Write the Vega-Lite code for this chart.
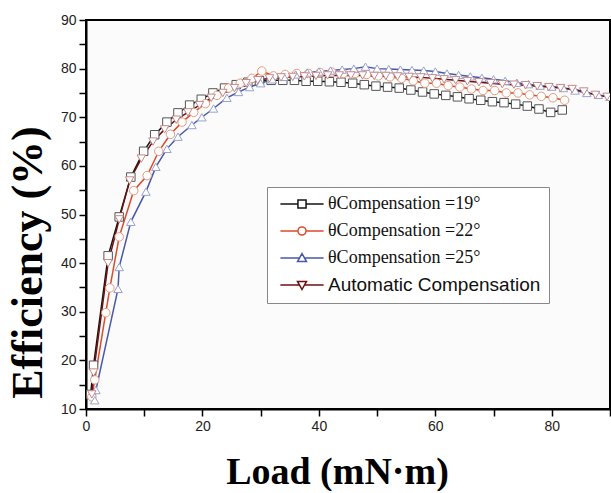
{
  "$schema": "https://vega.github.io/schema/vega-lite/v6.json",
  "width": 524,
  "height": 389,
  "padding": {"left": 6, "top": 13, "right": 0, "bottom": 0},
  "background": "white",
  "config": {"view": {"stroke": "black", "strokeWidth": 2, "fill": "#fbfbfc"}},
  "data": {"values": [
    {"s":"19","x":0.8,"y":13.0},{"s":"19","x":1.3,"y":19.0},{"s":"19","x":3.8,"y":41.5},{"s":"19","x":5.7,"y":49.5},{"s":"19","x":7.7,"y":57.7},{"s":"19","x":9.9,"y":63.0},{"s":"19","x":11.8,"y":66.4},{"s":"19","x":13.9,"y":69.0},{"s":"19","x":15.8,"y":70.9},{"s":"19","x":17.8,"y":72.5},{"s":"19","x":19.8,"y":73.7},{"s":"19","x":21.8,"y":75.0},{"s":"19","x":23.8,"y":76.0},{"s":"19","x":25.8,"y":76.7},{"s":"19","x":27.8,"y":77.2},{"s":"19","x":29.8,"y":77.5},{"s":"19","x":31.8,"y":77.6},{"s":"19","x":33.8,"y":77.6},{"s":"19","x":35.8,"y":77.6},{"s":"19","x":37.8,"y":77.4},{"s":"19","x":39.8,"y":77.4},{"s":"19","x":41.8,"y":77.3},{"s":"19","x":43.8,"y":77.2},{"s":"19","x":45.8,"y":77.0},{"s":"19","x":47.8,"y":76.7},{"s":"19","x":49.8,"y":76.4},{"s":"19","x":51.8,"y":76.2},{"s":"19","x":53.8,"y":76.0},{"s":"19","x":55.8,"y":75.6},{"s":"19","x":57.8,"y":75.2},{"s":"19","x":59.8,"y":74.8},{"s":"19","x":61.8,"y":74.5},{"s":"19","x":63.8,"y":74.2},{"s":"19","x":65.8,"y":73.8},{"s":"19","x":67.8,"y":73.5},{"s":"19","x":69.8,"y":73.2},{"s":"19","x":71.8,"y":73.0},{"s":"19","x":73.8,"y":72.7},{"s":"19","x":75.8,"y":72.3},{"s":"19","x":77.8,"y":71.7},{"s":"19","x":79.8,"y":71.0},{"s":"19","x":81.8,"y":71.5},
    {"s":"22","x":1.0,"y":12.5},{"s":"22","x":1.5,"y":16.0},{"s":"22","x":3.4,"y":29.8},{"s":"22","x":4.1,"y":34.9},{"s":"22","x":5.7,"y":45.4},{"s":"22","x":8.2,"y":54.9},{"s":"22","x":10.5,"y":58.0},{"s":"22","x":12.5,"y":63.0},{"s":"22","x":14.5,"y":66.5},{"s":"22","x":16.5,"y":69.0},{"s":"22","x":18.5,"y":71.0},{"s":"22","x":20.5,"y":72.8},{"s":"22","x":22.5,"y":74.5},{"s":"22","x":24.5,"y":76.0},{"s":"22","x":26.5,"y":77.0},{"s":"22","x":28.5,"y":78.0},{"s":"22","x":30.2,"y":79.5},{"s":"22","x":32.2,"y":78.5},{"s":"22","x":34.2,"y":78.8},{"s":"22","x":36.2,"y":79.0},{"s":"22","x":38.2,"y":79.0},{"s":"22","x":40.2,"y":79.2},{"s":"22","x":42.2,"y":79.3},{"s":"22","x":44.2,"y":79.0},{"s":"22","x":46.2,"y":79.0},{"s":"22","x":48.2,"y":78.8},{"s":"22","x":50.2,"y":78.5},{"s":"22","x":52.2,"y":78.3},{"s":"22","x":54.2,"y":78.0},{"s":"22","x":56.2,"y":77.5},{"s":"22","x":58.2,"y":77.0},{"s":"22","x":60.2,"y":77.0},{"s":"22","x":62.2,"y":76.5},{"s":"22","x":64.2,"y":76.2},{"s":"22","x":66.2,"y":75.8},{"s":"22","x":68.2,"y":75.5},{"s":"22","x":70.2,"y":75.5},{"s":"22","x":72.2,"y":75.0},{"s":"22","x":74.2,"y":75.0},{"s":"22","x":76.2,"y":74.6},{"s":"22","x":78.2,"y":74.3},{"s":"22","x":80.2,"y":74.0},{"s":"22","x":82.2,"y":73.5},
    {"s":"25","x":1.5,"y":11.8},{"s":"25","x":1.7,"y":13.9},{"s":"25","x":5.5,"y":34.7},{"s":"25","x":5.7,"y":39.2},{"s":"25","x":7.7,"y":48.5},{"s":"25","x":10.3,"y":54.7},{"s":"25","x":12.0,"y":59.8},{"s":"25","x":13.9,"y":63.5},{"s":"25","x":15.8,"y":66.0},{"s":"25","x":18.2,"y":68.4},{"s":"25","x":19.9,"y":70.0},{"s":"25","x":21.9,"y":71.8},{"s":"25","x":24.2,"y":74.0},{"s":"25","x":26.2,"y":75.2},{"s":"25","x":28.1,"y":76.2},{"s":"25","x":30.0,"y":77.0},{"s":"25","x":32.0,"y":77.8},{"s":"25","x":34.0,"y":78.3},{"s":"25","x":36.0,"y":78.8},{"s":"25","x":38.0,"y":79.2},{"s":"25","x":40.0,"y":79.4},{"s":"25","x":42.0,"y":79.6},{"s":"25","x":44.0,"y":79.8},{"s":"25","x":46.0,"y":80.0},{"s":"25","x":48.0,"y":80.4},{"s":"25","x":50.0,"y":80.0},{"s":"25","x":52.0,"y":79.9},{"s":"25","x":54.0,"y":79.8},{"s":"25","x":56.0,"y":79.7},{"s":"25","x":58.0,"y":79.6},{"s":"25","x":60.0,"y":79.4},{"s":"25","x":62.0,"y":79.0},{"s":"25","x":64.0,"y":78.7},{"s":"25","x":66.0,"y":78.4},{"s":"25","x":68.0,"y":78.1},{"s":"25","x":70.0,"y":77.8},{"s":"25","x":72.0,"y":77.5},{"s":"25","x":74.0,"y":77.1},{"s":"25","x":76.0,"y":76.8},{"s":"25","x":78.0,"y":76.5},{"s":"25","x":80.0,"y":76.3},{"s":"25","x":82.0,"y":76.0},{"s":"25","x":84.0,"y":75.5},{"s":"25","x":86.0,"y":75.0},{"s":"25","x":88.0,"y":74.6},{"s":"25","x":90.0,"y":74.2},
    {"s":"auto","x":1.0,"y":13.0},{"s":"auto","x":1.3,"y":17.5},{"s":"auto","x":3.8,"y":40.0},{"s":"auto","x":5.7,"y":49.0},{"s":"auto","x":7.5,"y":57.0},{"s":"auto","x":9.5,"y":61.5},{"s":"auto","x":11.5,"y":65.0},{"s":"auto","x":13.5,"y":67.5},{"s":"auto","x":15.5,"y":69.5},{"s":"auto","x":17.5,"y":71.0},{"s":"auto","x":19.5,"y":72.5},{"s":"auto","x":21.5,"y":74.0},{"s":"auto","x":23.5,"y":75.0},{"s":"auto","x":25.5,"y":76.0},{"s":"auto","x":27.5,"y":77.0},{"s":"auto","x":29.5,"y":77.6},{"s":"auto","x":31.5,"y":78.0},{"s":"auto","x":33.5,"y":78.2},{"s":"auto","x":35.5,"y":78.3},{"s":"auto","x":37.5,"y":78.4},{"s":"auto","x":39.5,"y":78.5},{"s":"auto","x":41.5,"y":78.6},{"s":"auto","x":43.5,"y":78.6},{"s":"auto","x":45.5,"y":78.6},{"s":"auto","x":47.5,"y":78.6},{"s":"auto","x":49.5,"y":78.5},{"s":"auto","x":51.5,"y":78.5},{"s":"auto","x":53.5,"y":78.4},{"s":"auto","x":55.5,"y":78.3},{"s":"auto","x":57.5,"y":78.2},{"s":"auto","x":59.5,"y":78.0},{"s":"auto","x":61.5,"y":77.8},{"s":"auto","x":63.5,"y":77.6},{"s":"auto","x":65.5,"y":77.4},{"s":"auto","x":67.5,"y":77.2},{"s":"auto","x":69.5,"y":77.0},{"s":"auto","x":71.5,"y":76.8},{"s":"auto","x":73.5,"y":76.7},{"s":"auto","x":75.5,"y":76.6},{"s":"auto","x":77.5,"y":76.4},{"s":"auto","x":79.5,"y":76.2},{"s":"auto","x":81.5,"y":76.0},{"s":"auto","x":83.5,"y":75.8},{"s":"auto","x":85.5,"y":75.3},{"s":"auto","x":87.5,"y":74.6},{"s":"auto","x":89.5,"y":74.2}
  ]},
  "encoding": {
    "x": {"field": "x", "type": "quantitative", "scale": {"domain": [0, 90], "nice": false},
      "axis": {"values": [0,10,20,30,40,50,60,70,80,90], "labelExpr": "datum.value % 20 == 0 && datum.value < 90 ? datum.label : ''",
        "title": "Load (mN·m)", "titleFont": "Liberation Serif", "titleFontSize": 38, "titleFontWeight": "bold", "titleColor": "black",
        "titlePadding": 20, "titleX": 251, "titleAlign": "center",
        "labelFont": "Liberation Sans", "labelFontSize": 14, "labelColor": "#222", "labelPadding": 3, "labelFlush": false, "labelOverlap": false,
        "tickSize": 7, "tickColor": "black", "tickWidth": 1.5, "domainColor": "black", "domainWidth": 2, "grid": false}},
    "y": {"field": "y", "type": "quantitative", "scale": {"domain": [10, 90], "nice": false},
      "axis": {"values": [10,15,20,25,30,35,40,45,50,55,60,65,70,75,80,85,90], "labelExpr": "datum.value % 10 == 0 ? datum.label : ''",
        "title": "Efficiency (%)", "titleFont": "Liberation Serif", "titleFontSize": 44, "titleFontWeight": "bold", "titleColor": "black",
        "titlePadding": 10, "titleY": 242, "titleAlign": "center",
        "labelFont": "Liberation Sans", "labelFontSize": 14, "labelColor": "#222", "labelPadding": 3, "labelFlush": false, "labelOverlap": false,
        "tickSize": 7, "tickColor": "black", "tickWidth": 1.5, "domainColor": "black", "domainWidth": 2, "grid": false}}
  },
  "layer": [
    {"mark": {"type": "line", "clip": true},
     "encoding": {
       "color": {"field": "s", "type": "nominal",
         "scale": {"domain": ["19", "22", "25", "auto"], "range": ["#151515", "#dc4a2c", "#4a58aa", "#6e1010"]},
         "legend": {"title": null, "orient": "none", "legendX": 181, "legendY": 167,
           "labelExpr": "datum.value == 'auto' ? 'Automatic Compensation' : 'θCompensation =' + datum.value + '°'",
           "labelFontSize": 19, "labelColor": "#111", "labelLimit": 400,
           "symbolSize": 81, "symbolOffset": 18, "labelOffset": 17, "rowPadding": 9, "padding": 8,
           "symbolFillColor": "white",
           "fillColor": "white", "strokeColor": "#888",
           "encode": {
             "symbols": {"update": {
               "shape": {"signal": "datum.value == '19' ? 'M-4.8,0H-0.9M0.9,0H4.8M-0.9,-0.9H0.9V0.9H-0.9Z' : datum.value == '22' ? 'M-4.8,0H-0.9M0.9,0H4.8M-0.9,0A0.9,0.9 0 1,0 0.9,0A0.9,0.9 0 1,0 -0.9,0Z' : datum.value == '25' ? 'M-4.8,0H-0.55M0.55,0H4.8M0,-1L1,0.8H-1Z' : 'M-4.8,0H-0.55M0.55,0H4.8M0,1L1,-0.8H-1Z'"},
               "strokeWidth": {"signal": "datum.value == 'auto' ? 2.5 : 1.3"},
               "fill": {"value": "white"}
             }},
             "labels": {"update": {
               "font": {"signal": "datum.value == 'auto' ? 'Liberation Sans' : 'Liberation Serif'"},
               "fontSize": {"signal": "datum.value == 'auto' ? 19 : 18"}
             }}
           }}},
       "strokeWidth": {"field": "s", "type": "nominal", "scale": {"domain": ["19", "22", "25", "auto"], "range": [1.5, 1.5, 1.5, 3]}, "legend": null}
     }},
    {"transform": [{"filter": "datum.s == '19'"}],
     "mark": {"type": "point", "shape": "square", "filled": true, "fill": "white", "stroke": "#555555", "strokeWidth": 1, "opacity": 1, "size": 72, "clip": true}},
    {"transform": [{"filter": "datum.s == '22'"}],
     "mark": {"type": "point", "shape": "circle", "filled": true, "fill": "white", "stroke": "#e89a7c", "strokeWidth": 1, "opacity": 1, "size": 72, "clip": true}},
    {"transform": [{"filter": "datum.s == '25'"}],
     "mark": {"type": "point", "shape": "triangle-up", "filled": true, "fill": "white", "stroke": "#9aa2cc", "strokeWidth": 1, "opacity": 1, "size": 72, "clip": true}},
    {"transform": [{"filter": "datum.s == 'auto'"}],
     "mark": {"type": "point", "shape": "triangle-down", "filled": true, "fill": "white", "stroke": "#c58a8a", "strokeWidth": 1, "opacity": 1, "size": 72, "clip": true}}
  ]
}
